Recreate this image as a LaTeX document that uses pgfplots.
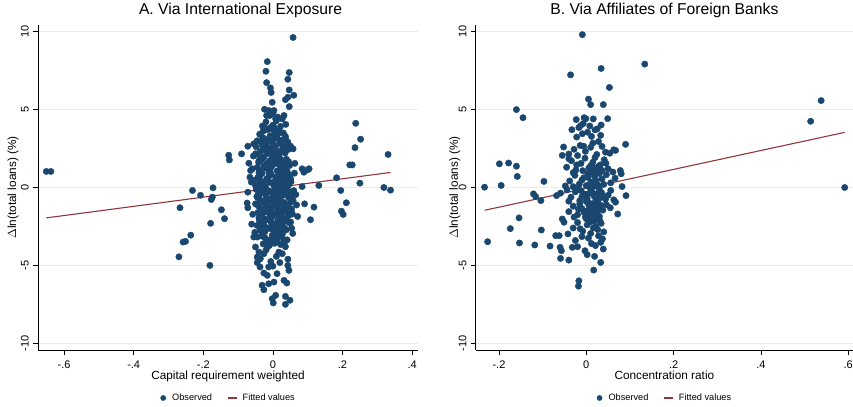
\documentclass[border=0pt]{standalone}
\usepackage{fontspec}
\setmainfont{Liberation Sans}
\usepackage{pgfplots}
\pgfplotsset{compat=1.18}
\definecolor{obsblue}{RGB}{26,71,111}
\definecolor{fitred}{RGB}{144,53,59}
\definecolor{gridc}{RGB}{230,238,240}

\pgfplotsset{
  statapanel/.style={
    scale only axis, height=325bp,
    axis x line*=bottom, axis y line*=left,
    axis line style={black, line width=0.7bp, -},
    tick align=outside, major tick length=5bp,
    tick style={black, line width=0.7bp},
    ymin=-10.43, ymax=10.43,
    ytick={-10,-5,0,5,10}, yticklabels={-10,-5,0,5,10},
    ymajorgrids, grid style={color=gridc, line width=1bp},
    tick label style={font=\fontsize{11bp}{13bp}\selectfont},
    yticklabel style={rotate=90, anchor=south, inner sep=0pt},
    xticklabel style={inner sep=0pt},
    yticklabel shift=4bp, xticklabel shift=6bp,
    label style={font=\fontsize{11.8bp}{14bp}\selectfont},
    title style={font=\fontsize{15.7bp}{18bp}\selectfont, anchor=base, yshift=4.3bp},
    xlabel style={at={(0.5,0)}, anchor=base, yshift=-30bp},
    legend style={at={(0.5,0)}, anchor=center, yshift=-48bp, draw=none, fill=none,
      font=\fontsize{9.2bp}{11bp}\selectfont, inner sep=0pt,
      /tikz/every even column/.append style={column sep=13bp}},
    legend columns=2, legend cell align=left,
  },
  obs/.style={only marks, mark=*, mark size=3.2bp, color=obsblue,
    mark options={draw=obsblue, fill=obsblue},
    legend image code/.code={\path[draw=none,fill=none] (-2bp,0bp) -- (9bp,0bp);
      \draw[mark repeat=2,mark phase=2,##1,mark size=2.6bp] plot coordinates {(-2bp,0bp)(2bp,0bp)(6bp,0bp)};}},
  fit/.style={no marks, color=fitred, line width=1.1bp,
    legend image code/.code={\path[draw=none,fill=none] (0bp,0bp) -- (13bp,0bp); \draw[##1] (0bp,0bp) -- (9bp,0bp);}},
}

\begin{document}
\begin{tikzpicture}
\useasboundingbox (0,0) rectangle (853bp,407bp);

% ---------------- Panel A
\begin{axis}[statapanel, at={(38bp,57bp)}, anchor=south west, width=380bp,
  xmin=-0.675, xmax=0.417,
  xtick={-0.6,-0.4,-0.2,0,0.2,0.4}, xticklabels={-.6,-.4,-.2,0,.2,.4},
  title={A. Via International Exposure}, title style={at={(0.533,1)}},
  xlabel={Capital requirement weighted},
  ylabel={$\Delta$ln(total loans) (\%)},
  ylabel style={at={(0,0.5)}, anchor=center, yshift=25bp},
]
\addplot[obs] coordinates {
(-0.651,1.03) (-0.638,1.03) (-0.267,-1.30) (-0.231,-0.19) (-0.208,-0.50) (-0.258,-3.50) (-0.251,-3.46)
(-0.236,-3.06) (-0.270,-4.45) (-0.181,-5.00) (-0.179,-2.30) (-0.177,-0.77) (-0.174,-0.62) (-0.172,-0.02)
(-0.148,-1.43) (-0.139,-2.00) (-0.127,2.07) (-0.125,1.77) (-0.090,2.16) (-0.072,2.65) (-0.069,1.56)
(-0.072,-0.30) (-0.074,-1.00) (-0.072,-1.30) (-0.066,0.66) (0.084,1.20) (0.089,0.98) (0.099,1.13)
(0.104,1.20) (0.084,0.06) (0.091,-1.05) (0.108,-2.07) (0.118,-1.26) (0.132,0.13) (0.183,0.62)
(0.195,-0.19) (0.197,-1.52) (0.202,-1.73) (0.211,-0.98) (0.221,1.45) (0.228,1.45) (0.236,2.56)
(0.238,4.12) (0.252,3.10) (0.250,0.28) (0.319,0.00) (0.331,2.12) (0.338,-0.17)
(0.058,9.63) (-0.016,8.08) (-0.020,7.46) (-0.018,6.73) (-0.007,6.39) (-0.005,6.10) (0.047,7.38)
(0.043,6.95) (0.047,6.26) (0.060,5.92) (0.043,5.79) (0.036,5.64) (0.047,5.19) (-0.024,5.02)
(-0.002,5.47) (-0.012,4.94) (0.003,4.94) (-0.018,4.62) (0.008,4.40) (0.032,4.62) (0.027,4.40)
(0.000,4.00) (0.003,3.87) (-0.011,3.76) (-0.021,3.80) (-0.055,2.80) (-0.045,3.00) (-0.026,3.10)
(0.012,3.18) (0.036,3.16) (0.051,2.65) (0.046,2.58) (-0.050,2.16) (0.034,2.37) (-0.040,1.73)
(0.041,1.62) (-0.064,1.09) (-0.059,1.20) (-0.055,0.45) (-0.050,0.13) (0.041,0.88) (0.051,0.56)
(0.056,-0.50) (0.060,-0.20) (-0.045,-0.62) (-0.050,-1.05) (0.041,-1.26) (0.056,-1.70) (0.051,-2.22)
(-0.045,-2.44) (-0.037,-2.76) (-0.045,-3.18) (-0.055,-3.18) (0.032,-3.40) (0.041,-3.36) (-0.050,-3.82)
(-0.040,-4.15) (-0.045,-4.47) (-0.036,-4.57) (-0.026,-4.25) (-0.016,-3.82) (0.017,-4.15) (0.027,-4.25)
(0.043,-5.00) (0.046,-5.32) (-0.037,-5.10) (-0.026,-5.49) (-0.012,-5.10) (-0.016,-5.64) (0.012,-5.53)
(-0.031,-6.28) (-0.026,-6.56) (-0.012,-6.18) (0.003,-6.07) (0.032,-5.96) (0.040,-6.13) (0.008,-6.92)
(-0.002,-7.14) (0.001,-7.41) (0.036,-6.99) (0.049,-7.24) (0.036,-7.50)
(-0.038,3.42) (-0.021,3.08) (-0.008,3.31) (0.004,3.12) (0.015,3.45) (0.027,3.05) (0.036,3.28) (-0.029,3.21)
(-0.048,2.61) (-0.033,2.93) (-0.019,2.70) (-0.006,2.97) (0.007,2.58) (0.019,2.84) (0.031,2.66) (0.043,2.91) (-0.012,2.52) (0.024,2.99)
(-0.043,2.12) (-0.029,2.41) (-0.015,2.18) (-0.002,2.46) (0.011,2.05) (0.022,2.33) (0.035,2.21) (0.044,2.44) (-0.036,2.31) (0.006,2.27)
(-0.041,1.62) (-0.028,1.91) (-0.017,1.55) (-0.004,1.83) (0.009,1.68) (0.018,1.96) (0.029,1.58) (0.039,1.81) (-0.033,1.77) (0.002,1.52) (0.014,1.88) (0.045,1.66)
(-0.039,1.11) (-0.026,1.38) (-0.013,1.19) (-0.001,1.45) (0.012,1.07) (0.023,1.32) (0.034,1.21) (0.048,1.41) (-0.045,1.29) (-0.008,1.02) (0.017,1.49) (0.041,1.04)
(-0.044,0.62) (-0.031,0.91) (-0.018,0.55) (-0.005,0.83) (0.008,0.68) (0.021,0.96) (0.032,0.59) (0.046,0.81) (-0.037,0.74) (-0.011,0.97) (0.015,0.52) (0.039,0.93)
(-0.049,0.18) (-0.036,0.41) (-0.022,0.07) (-0.009,0.33) (0.003,0.12) (0.016,0.46) (0.027,0.21) (0.038,0.02) (0.052,0.37) (-0.041,0.05) (-0.015,0.48) (0.011,0.29) (0.033,0.44) (0.045,0.15)
(-0.048,-0.12) (-0.034,-0.38) (-0.021,-0.05) (-0.007,-0.29) (0.005,-0.46) (0.018,-0.09) (0.029,-0.33) (0.041,-0.17) (0.055,-0.42) (-0.043,-0.47) (-0.013,-0.21) (0.012,-0.36) (0.035,-0.02) (0.048,-0.27)
(-0.046,-0.58) (-0.032,-0.86) (-0.019,-0.62) (-0.004,-0.91) (0.009,-0.55) (0.021,-0.79) (0.033,-0.97) (0.045,-0.64) (0.058,-0.83) (-0.039,-0.72) (-0.011,-0.77) (0.015,-0.99) (0.027,-0.52) (0.051,-0.95)
(-0.047,-1.08) (-0.033,-1.36) (-0.020,-1.12) (-0.006,-1.41) (0.007,-1.03) (0.019,-1.29) (0.031,-1.47) (0.043,-1.15) (0.054,-1.38) (-0.040,-1.22) (-0.013,-1.27) (0.013,-1.49) (0.025,-1.06) (0.037,-1.33)
(-0.043,-1.61) (-0.030,-1.88) (-0.017,-1.57) (-0.003,-1.93) (0.010,-1.66) (0.022,-1.84) (0.034,-1.52) (0.046,-1.79) (-0.037,-1.74) (-0.009,-1.71) (0.016,-1.98) (0.028,-1.63)
(-0.039,-2.12) (-0.026,-2.38) (-0.012,-2.07) (0.001,-2.43) (0.014,-2.18) (0.026,-2.35) (0.038,-2.03) (0.048,-2.29) (-0.032,-2.47) (-0.005,-2.24) (0.020,-2.49) (0.032,-2.21)
(-0.037,-2.58) (-0.023,-2.84) (-0.010,-2.62) (0.003,-2.91) (0.016,-2.67) (0.028,-2.95) (0.039,-2.71) (-0.030,-2.97) (-0.002,-2.55) (0.022,-2.82)
(-0.031,-3.12) (-0.016,-3.38) (-0.002,-3.08) (0.012,-3.41) (0.026,-3.17) (0.006,-3.26)
(-0.028,3.62) (-0.015,3.71) (0.004,3.58) (0.018,3.66) (-0.006,3.85) (-0.020,4.21) (0.010,4.28) (-0.009,4.62) (0.000,4.75) (0.014,4.52) (-0.030,3.95) (0.022,3.92) (0.037,4.05)
(-0.028,-3.62) (-0.010,-3.72) (0.005,-3.58) (0.022,-3.66) (0.033,-3.55) (-0.020,-4.02) (0.010,-4.42) (-0.006,-4.75) (0.020,-4.82) (0.000,-5.05) (-0.045,-4.82) (0.043,-4.60)
(0.062,0.92) (0.066,-0.45) (0.068,-1.12) (0.071,-1.86) (0.063,1.55) (0.058,2.48) (-0.058,-1.72) (-0.061,-2.35) (-0.056,2.02) (-0.062,0.35) (0.054,-2.62) (0.057,-2.95) (-0.052,-2.88)
(0.000,2.80) (-0.020,2.35) (0.028,2.50) (-0.010,1.70) (0.025,1.75) (0.004,2.05) (-0.022,1.25) (0.030,0.85) (0.005,0.40) (-0.028,0.30)
(0.022,-0.10) (-0.002,-0.65) (-0.026,-0.95) (0.040,-0.45) (0.002,-1.20) (-0.025,-1.55) (0.030,-1.20) (0.005,-1.70) (0.040,-1.95) (-0.020,-2.05)
(0.010,-2.30) (-0.015,-2.60) (0.033,-2.60) (0.010,-2.85) (-0.022,-3.25) (0.018,-3.05) (0.036,-3.80) (-0.008,-3.40) (-0.033,-0.10) (0.045,0.55)
(0.050,-0.70) (0.048,-1.55) (-0.040,0.95) (-0.035,-2.20) (0.015,0.10) (-0.012,0.70) (0.025,1.25) (-0.005,1.30) (0.018,2.20) (-0.030,2.70)
(0.010,3.35) (-0.016,3.00) (0.030,3.50) (-0.040,-1.95) (0.000,-2.70) (0.024,-2.05) (0.034,0.10) (-0.020,-0.40) (0.006,-0.15) (0.020,0.60)
(-0.026,1.95) (0.038,1.45) (-0.008,2.20) (0.014,-0.75) (-0.034,-1.45)
};
\addlegendentry{Observed}
\addplot[fit] coordinates {(-0.651,-1.950) (0.338,0.967)};
\addlegendentry{Fitted values}
\end{axis}

% ---------------- Panel B
\begin{axis}[statapanel, at={(475.7bp,57bp)}, anchor=south west, width=377.3bp,
  xmin=-0.2533, xmax=0.611,
  xtick={-0.2,0,0.2,0.4,0.6}, xticklabels={-.2,0,.2,.4,.6},
  title={B. Via Affiliates of Foreign Banks}, title style={at={(0.5,1)}},
  xlabel={Concentration ratio},
  ylabel={$\Delta$ln(total loans) (\%)},
  ylabel style={at={(0,0.5)}, anchor=center, yshift=21bp},
]
\addplot[obs] coordinates {
(-0.233,0.02) (-0.226,-3.48) (-0.199,1.52) (-0.195,0.13) (-0.178,1.57) (-0.174,-2.64) (-0.160,5.00)
(-0.160,1.37) (-0.158,0.71) (-0.154,-1.95) (-0.153,-3.56) (-0.145,4.48) (-0.121,-0.41) (-0.116,-0.58)
(-0.118,-3.69) (-0.104,-0.84) (-0.103,-2.73) (-0.097,0.39) (-0.083,-3.76) (-0.070,-3.09) (-0.062,-3.09)
(-0.068,-0.52) (-0.059,-0.36) (-0.060,-3.84) (-0.057,-4.06) (-0.059,-4.55) (-0.052,2.60) (-0.055,2.06)
(-0.055,-2.02) (-0.051,-2.23) (-0.036,7.23) (-0.033,3.71) (-0.040,-4.66) (-0.042,-2.98) (-0.032,-3.84)
(-0.009,9.81) (-0.017,-5.99) (-0.018,-6.33) (0.034,7.64) (0.053,6.42) (0.134,7.92) (0.005,5.67)
(0.010,5.32) (0.039,5.32) (0.514,4.25) (0.538,5.58) (0.592,0.00)
(-0.023,4.36) (-0.005,4.48) (-0.001,4.42) (0.016,4.40) (0.034,4.01) (0.049,4.42) (-0.013,3.97) (-0.007,4.10) (0.025,3.76) (0.033,3.35) (-0.022,3.24) (-0.009,3.45) (0.003,3.55) (0.012,3.28) (0.020,3.70) (-0.017,3.85) (0.008,3.95)
(-0.014,2.70) (0.044,2.27) (0.063,2.42) (0.067,2.38) (0.090,2.77) (-0.040,2.15) (-0.028,2.45) (-0.002,2.32) (0.010,2.58) (0.024,2.12) (0.036,2.64) (-0.020,2.05) (0.054,2.20) (0.015,2.85)
(-0.045,1.30) (-0.034,1.72) (-0.024,1.12) (-0.012,1.55) (-0.003,1.88) (0.006,1.25) (0.015,1.62) (0.025,1.05) (0.032,1.45) (0.041,1.78) (0.050,1.20) (0.061,0.99) (0.078,1.09) (-0.030,0.95) (0.020,1.92) (0.045,1.55) (-0.008,1.08) (0.028,1.35) (-0.040,1.85) (0.010,1.40)
(0.080,0.88) (0.082,0.06) (-0.048,0.10) (-0.038,0.42) (-0.026,0.78) (-0.016,0.22) (-0.006,0.62) (0.003,0.90) (0.011,0.35) (0.019,0.72) (0.027,0.15) (0.036,0.55) (0.046,0.82) (0.056,0.30) (0.066,0.60) (-0.030,0.05) (0.000,0.12) (0.014,0.95) (0.040,0.20) (-0.010,0.48) (0.023,0.45)
(-0.044,-0.15) (-0.035,-0.62) (-0.025,-0.28) (-0.015,-0.85) (-0.006,-0.40) (0.002,-0.70) (0.010,-0.12) (0.018,-0.55) (0.026,-0.92) (0.035,-0.33) (0.044,-0.75) (0.056,-0.19) (0.063,-0.79) (0.067,-0.94) (0.091,-0.52) (-0.040,-0.88) (-0.020,-0.05) (0.006,-0.98) (0.030,-0.10) (0.050,-0.50) (-0.010,-0.60) (0.014,-0.30) (0.022,-0.80) (0.040,-0.60)
(0.072,-1.70) (-0.040,-1.55) (-0.030,-1.20) (-0.020,-1.75) (-0.010,-1.35) (-0.002,-1.90) (0.006,-1.15) (0.014,-1.60) (0.022,-1.28) (0.030,-1.85) (0.038,-1.45) (0.046,-1.10) (0.055,-1.30) (-0.015,-1.05) (0.002,-1.50) (0.018,-1.95) (0.034,-1.15) (-0.028,-1.90) (0.010,-1.78) (0.026,-1.50)
(-0.030,-2.60) (-0.020,-2.25) (-0.008,-2.80) (0.002,-2.40) (0.010,-2.95) (0.018,-2.15) (0.026,-2.70) (0.034,-2.30) (0.040,-2.85) (0.005,-2.10) (0.022,-2.50) (-0.014,-2.65) (0.030,-2.05)
(0.037,-3.30) (0.033,-3.52) (0.021,-3.73) (0.039,-3.95) (-0.003,-4.06) (0.002,-4.31) (-0.020,-3.80) (-0.010,-3.15) (0.005,-3.25) (0.012,-3.60) (0.028,-3.10) (-0.025,-3.40) (0.019,-4.42) (0.033,-4.81) (0.017,-5.30)
(0.005,-0.40) (0.015,-1.05) (0.000,-0.90) (0.025,-0.40) (0.008,0.20) (0.020,0.10) (-0.005,-1.60) (0.030,-0.70) (0.010,-2.20) (0.020,-1.70)
(-0.012,-0.20) (0.032,-2.20) (0.012,-1.30) (0.026,-1.15) (0.000,-2.00) (0.016,-2.60) (-0.018,-1.40) (0.004,0.65) (0.030,0.90) (-0.022,1.45)
(0.036,1.10) (0.018,1.25) (-0.006,2.65) (0.028,2.95)
};
\addlegendentry{Observed}
\addplot[fit] coordinates {(-0.233,-1.462) (0.592,3.538)};
\addlegendentry{Fitted values}
\end{axis}
\end{tikzpicture}
\end{document}
